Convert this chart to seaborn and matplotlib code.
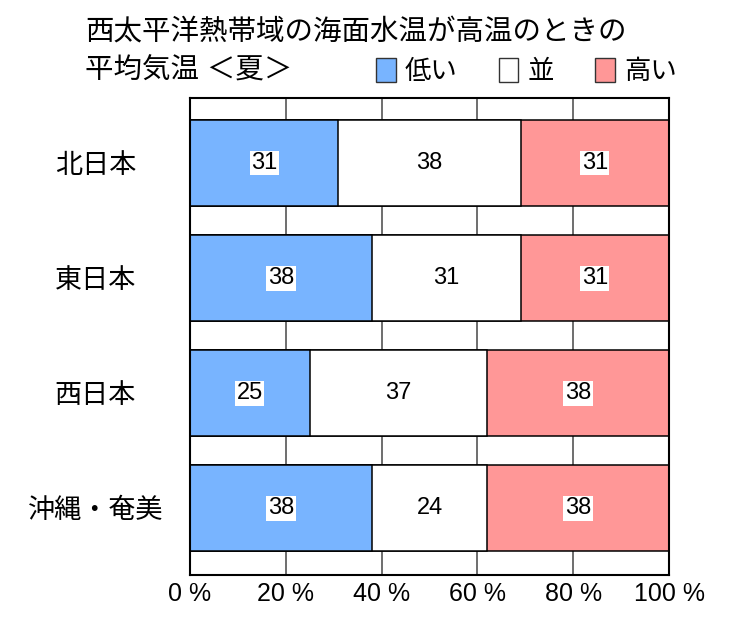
import matplotlib
matplotlib.use('Agg')
import matplotlib.pyplot as plt
import seaborn as sns
import pandas as pd
from matplotlib.patches import Patch

# データ
regions = ['北日本', '東日本', '西日本', '沖縄・奄美']
low = [31, 38, 25, 38]
normal = [38, 31, 37, 24]
high = [31, 31, 38, 38]
series_names = ['低い', '並', '高い']
series_colors = ['#78b4ff', '#ffffff', '#ff9797']
x_ticks = [0, 20, 40, 60, 80, 100]
x_tick_labels = ['0 %', '20 %', '40 %', '60 %', '80 %', '100 %']

sns.set_theme(style='white')
plt.rcParams['font.family'] = ['Liberation Sans', 'Noto Sans CJK JP', 'DejaVu Sans']
plt.rcParams['text.color'] = 'black'
plt.rcParams['xtick.color'] = 'black'
plt.rcParams['ytick.color'] = 'black'

df = pd.DataFrame({'region': regions, 'low': low, 'normal': normal, 'high': high})
df['c1'] = df['low']
df['c2'] = df['low'] + df['normal']
df['c3'] = df['low'] + df['normal'] + df['high']

fig = plt.figure(figsize=(7.5, 6.4), dpi=100)
ax = fig.add_axes([190 / 750, 1 - 575 / 640, 479 / 750, 477 / 640])

# 積み上げ棒（累積値を後ろから重ねる）
for col, color in zip(['c3', 'c2', 'c1'], series_colors[::-1]):
    sns.barplot(data=df, x=col, y='region', color=color, orient='h',
                width=0.75, edgecolor='black', linewidth=1.1,
                saturation=1, ax=ax)

# 値ラベル
for i in range(len(regions)):
    starts = [0, low[i], low[i] + normal[i]]
    vals = [low[i], normal[i], high[i]]
    for j, (s, v) in enumerate(zip(starts, vals)):
        kw = {}
        if j != 1:
            kw['bbox'] = dict(facecolor='white', edgecolor='none', pad=1)
        ax.text(s + v / 2, i, str(v), ha='center', va='center', fontsize=17,
                color='black', **kw)

ax.set_xlim(0, 100)
ax.set_ylim(3.58, -0.565)
ax.set_xticks(x_ticks)
ax.set_xticklabels(x_tick_labels, fontsize=18)
ax.set_xlabel('')
ax.set_ylabel('')
ax.set_axisbelow(True)
ax.xaxis.grid(True, color='#555555', linewidth=1.2)
ax.yaxis.grid(False)
ax.tick_params(axis='x', length=0, pad=5)
ax.tick_params(axis='y', length=0, pad=68, labelsize=19.5)
for lbl in ax.get_yticklabels():
    lbl.set_ha('center')
for sp in ax.spines.values():
    sp.set_color('black')
    sp.set_linewidth(1.5)

# タイトル
fig.text(85 / 750, 1 - 33 / 640, '西太平洋熱帯域の海面水温が高温のときの',
         fontsize=20.5, va='center', ha='left')
fig.text(85 / 750, 1 - 71 / 640, '平均気温 ＜夏＞',
         fontsize=20.5, va='center', ha='left')

# 凡例
handles = [Patch(facecolor=c, edgecolor='#333333', linewidth=1) for c in series_colors]
fig.legend(handles, series_names, loc='center left', bbox_to_anchor=(376 / 750, 1 - 71 / 640),
           ncol=3, frameon=False, fontsize=19, handlelength=0.75, handleheight=1.0,
           handletextpad=0.35, columnspacing=1.55, borderaxespad=0, borderpad=0)

fig.savefig('out.png', dpi=100)
